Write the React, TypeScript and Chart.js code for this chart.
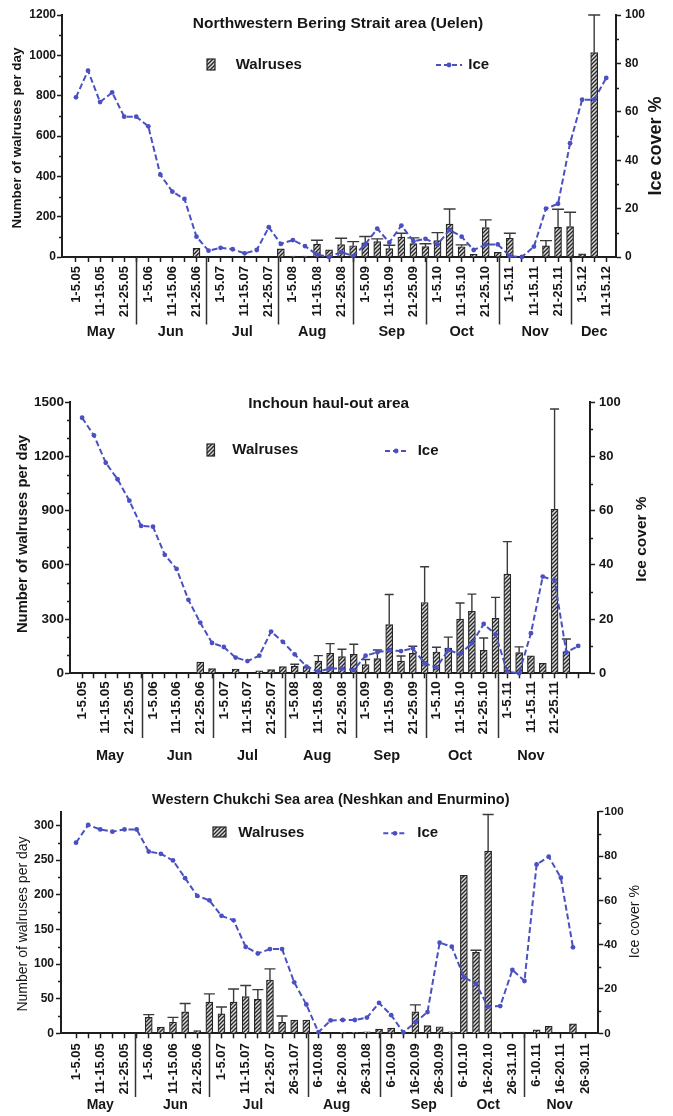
import React, { useEffect, useRef } from 'react';
import { Chart, registerables } from 'chart.js';

Chart.register(...registerables);

// ---------------- DATA ----------------
// Panel 1: Northwestern Bering Strait area (Uelen), 5-day periods 1-5.05 ... 11-15.12
const p1Title = 'Northwestern Bering Strait area (Uelen)';
const p1TickLabels = [
  '1-5.05', '11-15.05', '21-25.05', '1-5.06', '11-15.06', '21-25.06',
  '1-5.07', '11-15.07', '21-25.07', '1-5.08', '11-15.08', '21-25.08',
  '1-5.09', '11-15.09', '21-25.09', '1-5.10', '11-15.10', '21-25.10',
  '1-5.11', '11-15.11', '21-25.11', '1-5.12', '11-15.12',
];
const p1Months = ['May', 'Jun', 'Jul', 'Aug', 'Sep', 'Oct', 'Nov', 'Dec'];
const p1Walruses = [
  null, null, null, null, null, null, null, null, null, null,
  43, null, null, null, null, null, null, 40, 5, 5,
  64, 35, 62, 56, 70, 76, 42, 99, 66, 52,
  81, 163, 51, 13, 146, 23, 93, null, null, 55,
  147, 151, 16, 1014, null,
];
const p1WalrusesErrTop = [
  null, null, null, null, null, null, null, null, null, null,
  null, null, null, null, null, null, null, null, null, null,
  83, null, 93, 76, 102, 90, 58, 118, 95, 66,
  121, 238, 60, null, 184, null, 118, null, null, 81,
  237, 222, null, 1200, null,
];
const p1Ice = [
  66, 77, 64, 68, 58, 58, 54, 34, 27, 24,
  8.4, 2.6, 3.8, 3.2, 1.5, 2.9, 12.3, 5.4, 7, 4.5,
  1, 0, 2, 0.4, 5.2, 11.7, 6, 13, 6.5, 7.5,
  5.2, 11.2, 8.4, 2.9, 5.2, 5.2, 0.4, 0, 4.3, 20,
  22, 47, 65, 65, 74,
];

// Panel 2: Inchoun haul-out area, 1-5.05 ... 1-5.12
const p2Title = 'Inchoun haul-out area';
const p2TickLabels = [
  '1-5.05', '11-15.05', '21-25.05', '1-5.06', '11-15.06', '21-25.06',
  '1-5.07', '11-15.07', '21-25.07', '1-5.08', '11-15.08', '21-25.08',
  '1-5.09', '11-15.09', '21-25.09', '1-5.10', '11-15.10', '21-25.10',
  '1-5.11', '11-15.11', '21-25.11',
];
const p2Months = ['May', 'Jun', 'Jul', 'Aug', 'Sep', 'Oct', 'Nov'];
const p2Walruses = [
  null, null, null, null, null, null, null, null, null, null,
  62, 26, null, 24, null, 13, 20, 37, 40, 37,
  68, 111, 92, 105, 48, 81, 270, 67, 110, 392,
  118, 140, 300, 343, 127, 304, 549, 114, 97, 55,
  908, 120, null,
];
const p2WalrusesErrTop = [
  null, null, null, null, null, null, null, null, null, null,
  null, null, null, null, null, null, null, null, 50, null,
  98, 164, 133, 161, 76, 129, 436, 96, 150, 590,
  144, 200, 389, 438, 195, 420, 729, 146, null, null,
  1463, 190, null,
];
const p2Ice = [
  94.3, 87.8, 77.7, 71.6, 63.7, 54.4, 54.1, 43.7, 38.5, 27.1,
  18.7, 11.2, 9.7, 5.8, 4.5, 6.5, 15.4, 11.6, 7, 2.5,
  0.6, 1.8, 1.7, 1.2, 6.5, 7.8, 8.5, 8.2, 9.2, 3.7,
  2.1, 8.6, 7.1, 11.1, 18.2, 14.4, 0.6, 0, 14.8, 35.7,
  34.2, 7.7, 10.1,
];

// Panel 3: Western Chukchi Sea area (Neshkan and Enurmino)
const p3Title = 'Western Chukchi Sea area (Neshkan and Enurmino)';
const p3TickLabels = [
  '1-5.05', '11-15.05', '21-25.05', '1-5.06', '11-15.06', '21-25.06',
  '1-5.07', '11-15.07', '21-25.07', '26-31.07', '6-10.08', '16-20.08',
  '26-31.08', '6-10.09', '16-20.09', '26-30.09', '6-10.10', '16-20.10',
  '26-31.10', '6-10.11', '16-20.11', '26-30.11',
];
const p3Months = ['May', 'Jun', 'Jul', 'Aug', 'Sep', 'Oct', 'Nov'];
const p3Walruses = [
  null, null, null, null, null, null, 23, 9, 16, 31,
  4, 45, 28, 45, 53, 49, 77, 16, 19, 19,
  null, null, 1, 1, 2, 6, 7.5, null, 31, 11,
  9.5, 2, 228, 117, 263, 1, null, null, 5, 10,
  null, 13.5, null,
];
const p3WalrusesErrTop = [
  null, null, null, null, null, null, 27, null, 23, 43,
  null, 57, 38, 64, 69, 63, 93, 25, null, null,
  null, null, null, null, null, null, null, null, 41, null,
  null, null, null, 120, 316, null, null, null, null, null,
  null, null, null,
];
const p3Ice = [
  86, 94, 92, 91, 92, 92, 82, 81, 78, 70,
  62, 60, 53, 51, 39, 36, 38, 38, 23, 13,
  0.5, 5.8, 6, 6, 7.1, 13.7, 8.2, 0.4, 5, 9.6,
  40.9, 39.1, 25.3, 22.3, 12, 12.3, 28.6, 23.6, 76.2, 79.7,
  70.2, 38.8, null,
];

const leftAxisTitle = 'Number of walruses per day';
const rightAxisTitle = 'Ice cover %';
const barLabel = 'Walruses';
const lineLabel = 'Ice';

// ---------------- STYLE / LAYOUT ----------------
const FONT = '"Liberation Sans", Arial, Helvetica, sans-serif';
const ICE_COLOR = '#4a50c2';
const AXIS_COLOR = '#1e1e1e';
const TEXT_COLOR = '#161616';
const BAR_BORDER = '#262626';
const ERR_COLOR = '#3a3a3a';

type Num = number | null;
type TextSpec = { x: number; y: number; size: number; weight: string };
type Panel = {
  title: string; titleSpec: TextSpec;
  tickLabels: string[]; months: string[];
  walruses: Num[]; errTop: Num[]; ice: Num[];
  top: number; height: number; padTop: number; leftW: number; rightW: number; xH: number;
  xMin: number; xMax: number;
  yMax: number; yStep: number; yMinor: number; yTickFont: number; rTickFont: number;
  leftPad: number; rightPad: number; yTickLen: number;
  xTickFont: number; xTickPad: number;
  monthPos: number[]; monthY: number; monthFont: number;
  sepPos: number[]; sepBottom: number;
  leftTitle: TextSpec; rightTitle: TextSpec;
  legend: { bx: number; by: number; bw: number; bh: number; wx: number; wy: number; lx1: number; lx2: number; ly: number; ix: number; iy: number; size: number };
  capW: number;
};

const PANELS: Panel[] = [
  {
    title: p1Title, titleSpec: { x: 338, y: 23.5, size: 15.5, weight: 'bold' },
    tickLabels: p1TickLabels, months: p1Months,
    walruses: p1Walruses, errTop: p1WalrusesErrTop, ice: p1Ice,
    top: 0, height: 342, padTop: 15, leftW: 62, rightW: 57, xH: 85,
    xMin: -1.16, xMax: 44.81,
    yMax: 1200, yStep: 200, yMinor: 100, yTickFont: 12, rTickFont: 12,
    leftPad: 1, rightPad: 4, yTickLen: 5,
    xTickFont: 13, xTickPad: 4,
    monthPos: [2.07, 7.86, 13.8, 19.6, 26.2, 32, 38.1, 43], monthY: 332, monthFont: 14.5,
    sepPos: [4.98, 10.8, 16.75, 22.98, 29.05, 35.1, 41.05], sepBottom: 324.6,
    leftTitle: { x: 17, y: 138, size: 13.5, weight: 'bold' },
    rightTitle: { x: 656, y: 146, size: 18, weight: 'bold' },
    legend: { bx: 207, by: 59, bw: 8, bh: 11, wx: 235.7, wy: 64.5, lx1: 436, lx2: 462, ly: 65, ix: 468.3, iy: 65, size: 15 },
    capW: 12,
  },
  {
    title: p2Title, titleSpec: { x: 328.7, y: 403.3, size: 15.4, weight: 'bold' },
    tickLabels: p2TickLabels, months: p2Months,
    walruses: p2Walruses, errTop: p2WalrusesErrTop, ice: p2Ice,
    top: 360, height: 412, padTop: 42.3, leftW: 70, rightW: 83, xH: 98.7,
    xMin: -1.025, xMax: 43.0,
    yMax: 1500, yStep: 300, yMinor: 100, yTickFont: 13.5, rTickFont: 13,
    leftPad: 1, rightPad: 4, yTickLen: 5,
    xTickFont: 13.5, xTickPad: 3,
    monthPos: [2.36, 8.25, 14, 19.9, 25.8, 32, 38], monthY: 755.7, monthFont: 14.5,
    sepPos: [5.08, 11.1, 17.2, 23.2, 29.1, 35.2], sepBottom: 738,
    leftTitle: { x: 23.3, y: 534, size: 14.8, weight: 'bold' },
    rightTitle: { x: 641.7, y: 539, size: 15.5, weight: 'bold' },
    legend: { bx: 207, by: 444, bw: 7.5, bh: 12, wx: 232.3, wy: 450, lx1: 385, lx2: 407.3, ly: 451, ix: 417.7, iy: 451, size: 15 },
    capW: 9,
  },
  {
    title: p3Title, titleSpec: { x: 330.8, y: 800, size: 14.5, weight: 'bold' },
    tickLabels: p3TickLabels, months: p3Months,
    walruses: p3Walruses, errTop: p3WalrusesErrTop, ice: p3Ice,
    top: 780, height: 336, padTop: 31.7, leftW: 61, rightW: 74.7, xH: 82.7,
    xMin: -1.24, xMax: 43.09,
    yMax: 320, yStep: 50, yMinor: 25, yTickFont: 12, rTickFont: 11.6,
    leftPad: 2, rightPad: 1, yTickLen: 5,
    xTickFont: 13, xTickPad: 5,
    monthPos: [2, 8.2, 14.6, 21.5, 28.7, 34, 39.9], monthY: 1105, monthFont: 14,
    sepPos: [4.9, 11, 19.1, 25.1, 30.9, 37], sepBottom: 1097,
    leftTitle: { x: 23, y: 924, size: 14, weight: 'normal' },
    rightTitle: { x: 635, y: 921.7, size: 14, weight: 'normal' },
    legend: { bx: 213, by: 827, bw: 13, bh: 10, wx: 238.3, wy: 832.5, lx1: 383.3, lx2: 406.7, ly: 833.3, ix: 417.3, iy: 833, size: 15 },
    capW: 11,
  },
];

function makeHatch(): CanvasPattern | string {
  const c = document.createElement('canvas');
  c.width = 4; c.height = 4;
  const g = c.getContext('2d');
  if (!g) return '#aaaaaa';
  g.fillStyle = '#d9d9d9';
  g.fillRect(0, 0, 4, 4);
  g.strokeStyle = '#262626';
  g.lineWidth = 1.3;
  g.beginPath();
  g.moveTo(0, 4); g.lineTo(4, 0);
  g.moveTo(-1, 1); g.lineTo(1, -1);
  g.moveTo(3, 5); g.lineTo(5, 3);
  g.stroke();
  return g.createPattern(c, 'repeat') || '#aaaaaa';
}

function rotText(ctx: CanvasRenderingContext2D, text: string, spec: TextSpec, topOff: number) {
  ctx.save();
  ctx.translate(spec.x, spec.y - topOff);
  ctx.rotate(-Math.PI / 2);
  ctx.font = `${spec.weight} ${spec.size}px ${FONT}`;
  ctx.fillStyle = TEXT_COLOR;
  ctx.textAlign = 'center';
  ctx.textBaseline = 'middle';
  ctx.fillText(text, 0, 0);
  ctx.restore();
}

function PanelChart({ p, idx }: { p: Panel; idx: number }) {
  const ref = useRef<HTMLCanvasElement | null>(null);

  useEffect(() => {
    const canvas = ref.current;
    if (!canvas) return;
    const hatch = makeHatch();
    const n = p.ice.length;
    const T = p.top;

    const decor = {
      id: 'decor' + idx,
      afterDatasetDraw(chart: any, args: any) {
        if (args.index !== 1) return;
        const ctx: CanvasRenderingContext2D = chart.ctx;
        const xs = chart.scales.x;
        const ys = chart.scales.y;
        ctx.save();
        ctx.strokeStyle = ERR_COLOR;
        ctx.lineWidth = 1.4;
        p.errTop.forEach((e, i) => {
          const v = p.walruses[i];
          if (e == null || v == null) return;
          const x = xs.getPixelForValue(i);
          const y1 = ys.getPixelForValue(v);
          const y2 = ys.getPixelForValue(e);
          ctx.beginPath();
          ctx.moveTo(x, y1); ctx.lineTo(x, y2);
          ctx.moveTo(x - p.capW / 2, y2); ctx.lineTo(x + p.capW / 2, y2);
          ctx.stroke();
        });
        ctx.restore();
      },
      afterDraw(chart: any) {
        const ctx: CanvasRenderingContext2D = chart.ctx;
        const area = chart.chartArea;
        const xs = chart.scales.x;
        const ys = chart.scales.y;
        const yr = chart.scales.yR;
        ctx.save();
        // minor ticks
        ctx.strokeStyle = AXIS_COLOR;
        ctx.lineWidth = 1.3;
        ctx.beginPath();
        for (let v = p.yMinor; v <= p.yMax + 1e-6; v += p.yMinor) {
          if (Math.abs(v / p.yStep - Math.round(v / p.yStep)) < 1e-6) continue;
          const y = Math.round(ys.getPixelForValue(v)) + 0.5;
          ctx.moveTo(area.left - 3, y); ctx.lineTo(area.left, y);
        }
        for (let v = 10; v <= 100; v += 20) {
          const y = Math.round(yr.getPixelForValue(v)) + 0.5;
          ctx.moveTo(area.right, y); ctx.lineTo(area.right + 3, y);
        }
        ctx.stroke();
        // month separators
        ctx.lineWidth = 1.5;
        ctx.strokeStyle = '#333';
        ctx.beginPath();
        p.sepPos.forEach((s) => {
          const x = Math.round(xs.getPixelForValue(s)) + 0.5;
          ctx.moveTo(x, area.bottom); ctx.lineTo(x, p.sepBottom - T);
        });
        ctx.stroke();
        // month labels
        ctx.fillStyle = TEXT_COLOR;
        ctx.font = `bold ${p.monthFont}px ${FONT}`;
        ctx.textAlign = 'center';
        ctx.textBaseline = 'middle';
        p.months.forEach((m, i) => {
          ctx.fillText(m, xs.getPixelForValue(p.monthPos[i]), p.monthY - T);
        });
        // title
        ctx.font = `${p.titleSpec.weight} ${p.titleSpec.size}px ${FONT}`;
        ctx.fillText(p.title, p.titleSpec.x, p.titleSpec.y - T);
        // axis titles
        rotText(ctx, leftAxisTitle, p.leftTitle, T);
        rotText(ctx, rightAxisTitle, p.rightTitle, T);
        // legend
        const L = p.legend;
        ctx.fillStyle = hatch as any;
        ctx.fillRect(L.bx, L.by - T, L.bw, L.bh);
        ctx.strokeStyle = BAR_BORDER;
        ctx.lineWidth = 1.2;
        ctx.strokeRect(L.bx, L.by - T, L.bw, L.bh);
        ctx.fillStyle = TEXT_COLOR;
        ctx.font = `bold ${L.size}px ${FONT}`;
        ctx.textAlign = 'left';
        ctx.fillText(barLabel, L.wx, L.wy - T);
        ctx.fillText(lineLabel, L.ix, L.iy - T);
        ctx.strokeStyle = ICE_COLOR;
        ctx.lineWidth = 2;
        ctx.setLineDash([5, 3]);
        ctx.beginPath();
        ctx.moveTo(L.lx1, L.ly - T); ctx.lineTo(L.lx2, L.ly - T);
        ctx.stroke();
        ctx.setLineDash([]);
        ctx.fillStyle = ICE_COLOR;
        ctx.beginPath();
        ctx.arc((L.lx1 + L.lx2) / 2, L.ly - T, 2.4, 0, Math.PI * 2);
        ctx.fill();
        ctx.restore();
      },
    };

    const tickIdx = Array.from({ length: n }, (_, i) => i);
    const majors: number[] = [];
    for (let v = 0; v <= p.yMax + 1e-6; v += p.yStep) majors.push(v);
    const rMajors = [0, 20, 40, 60, 80, 100];

    const gridCfg = {
      drawOnChartArea: false, drawTicks: true, tickLength: p.yTickLen,
      tickColor: AXIS_COLOR, tickWidth: 1.5, offset: false,
    };
    const borderCfg = { display: true, color: AXIS_COLOR, width: 2 };
    const plainNum = (v: any) => String(Math.round(Number(v)));

    const chart = new Chart(canvas, {
      type: 'bar',
      data: {
        datasets: [
          {
            type: 'line',
            label: lineLabel,
            data: p.ice.map((v, i) => ({ x: i, y: v })),
            xAxisID: 'x',
            yAxisID: 'yR',
            borderColor: ICE_COLOR,
            backgroundColor: ICE_COLOR,
            borderWidth: 2,
            borderDash: [6, 3],
            pointRadius: 2.4,
            pointBorderWidth: 0,
            pointBackgroundColor: ICE_COLOR,
            tension: 0,
            order: 0,
            clip: 6,
          } as any,
          {
            type: 'bar',
            label: barLabel,
            data: p.walruses.map((v, i) => ({ x: i, y: v })),
            xAxisID: 'x',
            yAxisID: 'y',
            backgroundColor: hatch as any,
            borderColor: BAR_BORDER,
            borderWidth: 1.2,
            borderSkipped: 'bottom',
            barThickness: 7,
            order: 1,
          } as any,
        ],
      },
      options: {
        responsive: false,
        animation: false,
        events: [],
        layout: { padding: { top: p.padTop, left: 0, right: 0, bottom: 0 } },
        plugins: {
          legend: { display: false },
          tooltip: { enabled: false },
          title: { display: false },
        },
        scales: {
          x: {
            type: 'linear',
            position: 'bottom',
            min: p.xMin,
            max: p.xMax,
            offset: false,
            afterBuildTicks: (s: any) => { s.ticks = tickIdx.map((v) => ({ value: v })); },
            afterFit: (s: any) => { s.height = p.xH; },
            ticks: {
              autoSkip: false,
              minRotation: 90,
              maxRotation: 90,
              padding: p.xTickPad,
              color: TEXT_COLOR,
              font: { family: FONT, size: p.xTickFont, weight: 'bold' },
              callback: (value: any) => {
                const i = Math.round(Number(value));
                return i % 2 === 0 ? (p.tickLabels[i / 2] ?? '') : '';
              },
            },
            grid: { ...gridCfg, tickLength: 5 },
            border: borderCfg,
          },
          y: {
            type: 'linear',
            position: 'left',
            min: 0,
            max: p.yMax,
            afterBuildTicks: (s: any) => { s.ticks = majors.map((v) => ({ value: v })); },
            afterFit: (s: any) => { s.width = p.leftW; },
            ticks: {
              padding: p.leftPad,
              color: TEXT_COLOR,
              font: { family: FONT, size: p.yTickFont, weight: 'bold' },
              callback: plainNum,
            },
            grid: gridCfg,
            border: borderCfg,
          },
          yR: {
            type: 'linear',
            position: 'right',
            min: 0,
            max: 100,
            afterBuildTicks: (s: any) => { s.ticks = rMajors.map((v) => ({ value: v })); },
            afterFit: (s: any) => { s.width = p.rightW; },
            ticks: {
              padding: p.rightPad,
              color: TEXT_COLOR,
              font: { family: FONT, size: p.rTickFont, weight: 'bold' },
              callback: plainNum,
            },
            grid: gridCfg,
            border: borderCfg,
          },
        },
      } as any,
      plugins: [decor as any],
    });

    return () => chart.destroy();
  }, [p, idx]);

  return (
    <canvas
      ref={ref}
      width={673}
      height={p.height}
      style={{ position: 'absolute', left: 0, top: p.top, width: 673, height: p.height, display: 'block' }}
    />
  );
}

export default function App() {
  return (
    <div style={{ position: 'absolute', left: 0, top: 0, width: 673, height: 1116, overflow: 'hidden', background: '#ffffff' }}>
      {PANELS.map((p, i) => (
        <PanelChart key={i} p={p} idx={i} />
      ))}
    </div>
  );
}
